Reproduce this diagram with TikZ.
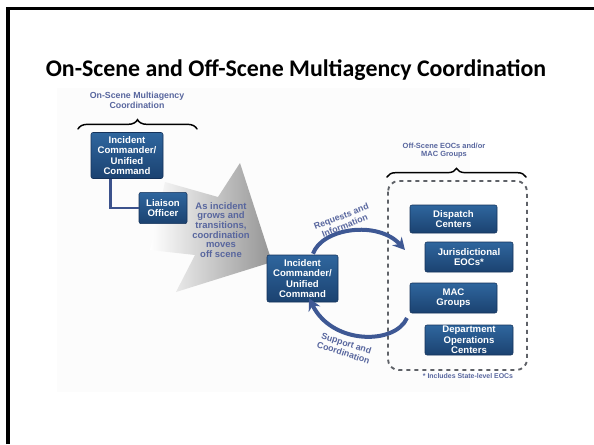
\documentclass[tikz,border=0pt]{standalone}
\usepackage{fontspec}
\setmainfont{Liberation Sans}
\newfontfamily\titlefont{Carlito}
\usepackage{tikz}
\usetikzlibrary{arrows.meta,decorations.pathreplacing}

\definecolor{boxtop}{RGB}{47,102,158}
\definecolor{boxbot}{RGB}{27,66,112}
\definecolor{boxedge}{RGB}{20,50,90}
\definecolor{linkblue}{RGB}{60,82,140}
\definecolor{flowblue}{RGB}{62,88,148}
\definecolor{labelblue}{RGB}{88,102,158}
\definecolor{dashgray}{RGB}{95,98,104}

\tikzset{
  unit/.style={rectangle, rounded corners=1.5pt, draw=boxedge, line width=0.4pt,
    top color=boxtop, bottom color=boxbot, text=white, align=center, inner sep=0pt,
    font=\bfseries\fontsize{7.2}{7.8}\selectfont},
  tag/.style={text=labelblue, align=center, inner sep=0pt,
    font=\bfseries\fontsize{6.6}{7.4}\selectfont},
  curly/.style={decorate, decoration={brace, amplitude=7pt}, line width=1.1pt, line cap=round},
  flow/.style={draw=flowblue, line width=3pt, -{Stealth[length=9pt,width=9.5pt]}},
}

\begin{document}
\begin{tikzpicture}[x=0.75pt,y=0.75pt,yscale=-1,xscale=1]
    \useasboundingbox (0,0) rectangle (594,444);

    %Shape: Panel
    \fill [black!1] (57,88) rectangle (470,392);
    %Shape: Frame
    \draw [line width=2.6pt] (8,444) -- (8,8.5) -- (594,8.5);

    % Text Node
    \node (title) [anchor=base, inner sep=0pt, font=\titlefont\bfseries\fontsize{17.9}{20}\selectfont] at (296,76) {On-Scene and Off-Scene Multiagency Coordination};

    %Shape: Big Arrow
    \shade [left color=white, middle color=black!9, right color=black!42]
      (272,262) -- (240,163) -- (218,197) -- (165,182) -- (150,250) -- (195,255) -- (176,292) -- cycle;

    % Text Node
    \node (onscene) [tag] at (137,100) {On-Scene Multiagency\\Coordination};
    %Shape: Brace
    \draw [curly] (78,129) -- (197,129);

    %Boxes on scene
    \node (ic1) [unit, minimum width=54pt, minimum height=34.5pt] at (127,155.5) {Incident\\Commander/\\Unified\\Command};
    \node (liaison) [unit, minimum width=36pt, minimum height=23.5pt] at (163,208) {Liaison\\Officer};
    %Straight Lines
    \draw [linkblue, line width=2.2pt] (ic1.south) ++(-16.5,0) |- (liaison.west);

    % Text Node
    \node (grows) [tag, font=\bfseries\fontsize{7.1}{7.2}\selectfont] at (221,230) {As incident\\grows and\\transitions,\\coordination\\moves\\off scene};

    %Box center
    \node (ic2) [unit, minimum width=53.25pt, minimum height=35.25pt] at (302.5,278.5) {Incident\\Commander/\\Unified\\Command};

    % Off scene group
    \node (offscene) [tag, font=\bfseries\fontsize{5.6}{6}\selectfont] at (444,151) {Off-Scene EOCs and/or\\MAC Groups};
    \draw [curly, decoration={amplitude=6.5pt}] (387,177) -- (526,177);
    \draw [dashgray, line width=1.4pt, dash pattern=on 3pt off 3pt, rounded corners=8pt] (388,181) rectangle (527,370);

    \node (dispatch) [unit, minimum width=65.25pt, minimum height=21pt] at (453.5,219) {Dispatch\\Centers};
    \node (juris) [unit, minimum width=66pt, minimum height=22.5pt] at (469,257) {Jurisdictional\\EOCs*};
    \node (mac) [unit, minimum width=65.25pt, minimum height=22.5pt] at (453.5,298) {MAC\\Groups};
    \node (dept) [unit, minimum width=66pt, minimum height=22.5pt] at (469,340) {Department\\Operations\\Centers};

    % Text Node
    \node (note) [tag, font=\bfseries\fontsize{5.2}{6}\selectfont] at (468,376.5) {* Includes State-level EOCs};

    %Curved Arrows
    \coordinate (reqend) at (405,250);
    \coordinate (supstart) at (407,318);
    \draw [flow] (ic2.north) ++(10.5,-1) .. controls (322,228) and (378,220) .. (reqend);
    \draw [flow] (supstart) .. controls (395,345) and (332,345) .. ([xshift=5pt,yshift=-3pt]ic2.south);

    % Text Node
    \node (requests) [tag, rotate=21] at (343,221) {Requests and\\Information};
    \node (support) [tag, rotate=-18] at (345,348) {Support and\\Coordination};
\end{tikzpicture}
\end{document}
